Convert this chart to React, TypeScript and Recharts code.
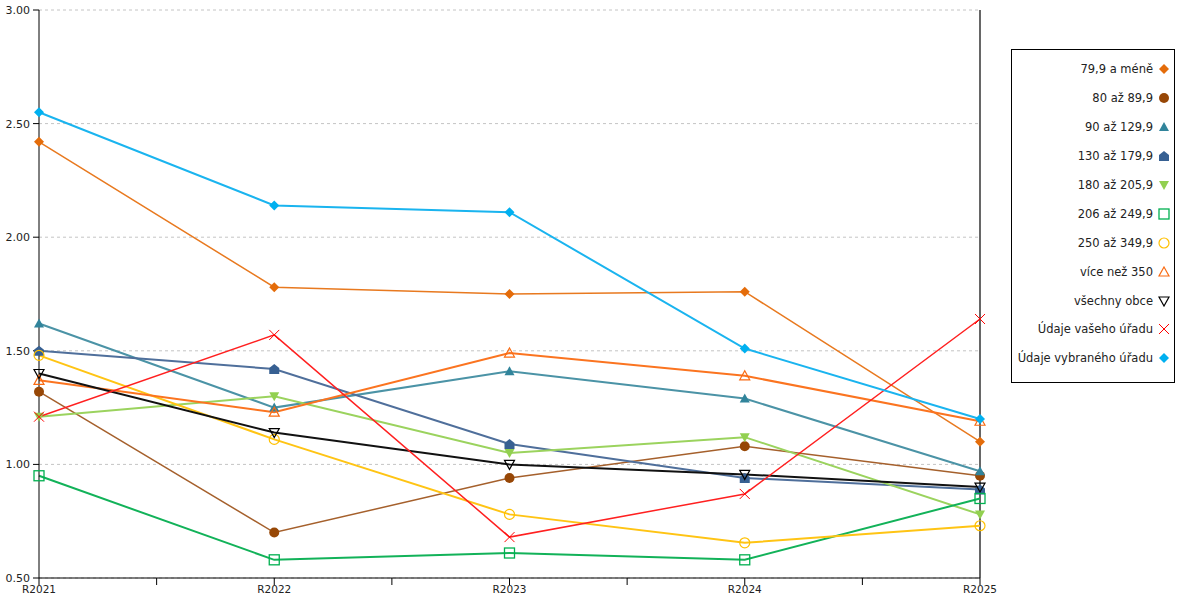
import { LineChart, Line, XAxis, YAxis, CartesianGrid, ReferenceLine } from "recharts";

const CATEGORIES = ["R2021", "R2022", "R2023", "R2024", "R2025"];
const Y_TICKS = [0.5, 1, 1.5, 2, 2.5, 3];
const X_TICKS = [0, 1, 2, 3, 4, 5, 6, 7, 8];

const S_79 = [2.42, 1.78, 1.75, 1.76, 1.1];
const S_80 = [1.32, 0.7, 0.94, 1.08, 0.95];
const S_90 = [1.62, 1.25, 1.41, 1.29, 0.97];
const S_130 = [1.5, 1.42, 1.09, 0.94, 0.89];
const S_180 = [1.21, 1.3, 1.05, 1.12, 0.78];
const S_206 = [0.95, 0.58, 0.61, 0.58, 0.85];
const S_250 = [1.48, 1.11, 0.78, 0.655, 0.73];
const S_350 = [1.37, 1.23, 1.49, 1.39, 1.19];
const S_ALL = [1.4, 1.14, 1.0, 0.956, 0.9];
const S_YOURS = [1.21, 1.57, 0.68, 0.87, 1.64];
const S_SELECTED = [2.55, 2.14, 2.11, 1.51, 1.2];

type Shape =
  | "diamond"
  | "circle"
  | "triangle"
  | "house"
  | "triangleDown"
  | "squareOpen"
  | "circleOpen"
  | "triangleOpen"
  | "triangleDownOpen"
  | "cross";

const SERIES: Array<{ key: string; name: string; values: number[]; line: string; mark: string; shape: Shape; width: number }> = [
  { key: "s79", name: "79,9 a méně", values: S_79, line: "#e8791f", mark: "#e46c0a", shape: "diamond", width: 1.5 },
  { key: "s80", name: "80 až 89,9", values: S_80, line: "#a5602c", mark: "#974706", shape: "circle", width: 1.5 },
  { key: "s90", name: "90 až 129,9", values: S_90, line: "#4b93a6", mark: "#31849b", shape: "triangle", width: 2 },
  { key: "s130", name: "130 až 179,9", values: S_130, line: "#4f6f9b", mark: "#376092", shape: "house", width: 2 },
  { key: "s180", name: "180 až 205,9", values: S_180, line: "#9bd35e", mark: "#92d050", shape: "triangleDown", width: 2 },
  { key: "s206", name: "206 až 249,9", values: S_206, line: "#12b259", mark: "#00b050", shape: "squareOpen", width: 2 },
  { key: "s250", name: "250 až 349,9", values: S_250, line: "#ffc414", mark: "#ffc000", shape: "circleOpen", width: 2 },
  { key: "s350", name: "více než 350", values: S_350, line: "#fb7420", mark: "#f96b12", shape: "triangleOpen", width: 2 },
  { key: "sall", name: "všechny obce", values: S_ALL, line: "#111111", mark: "#000000", shape: "triangleDownOpen", width: 2 },
  { key: "syours", name: "Údaje vašeho úřadu", values: S_YOURS, line: "#ff2020", mark: "#ff0000", shape: "cross", width: 1.5 },
  { key: "ssel", name: "Údaje vybraného úřadu", values: S_SELECTED, line: "#1ab4ef", mark: "#00b0f0", shape: "diamond", width: 2 },
];

const rows = CATEGORIES.map((_, i) => {
  const row: Record<string, number> = { x: i * 2 };
  SERIES.forEach((s) => {
    row[s.key] = s.values[i];
  });
  return row;
});

function Marker({ shape, color, cx, cy }: { shape: Shape; color: string; cx: number; cy: number }) {
  const r = 5;
  switch (shape) {
    case "diamond":
      return <polygon points={`${cx},${cy - r} ${cx + r},${cy} ${cx},${cy + r} ${cx - r},${cy}`} fill={color} />;
    case "circle":
      return <circle cx={cx} cy={cy} r={r} fill={color} />;
    case "triangle":
      return <polygon points={`${cx},${cy - r} ${cx + r},${cy + r - 1} ${cx - r},${cy + r - 1}`} fill={color} />;
    case "house":
      return (
        <polygon
          points={`${cx},${cy - r} ${cx + r},${cy - 1} ${cx + r},${cy + r} ${cx - r},${cy + r} ${cx - r},${cy - 1}`}
          fill={color}
        />
      );
    case "triangleDown":
      return <polygon points={`${cx - r},${cy - r + 1} ${cx + r},${cy - r + 1} ${cx},${cy + r}`} fill={color} />;
    case "squareOpen":
      return <rect x={cx - r} y={cy - r} width={2 * r} height={2 * r} fill="#fff" fillOpacity={0} stroke={color} strokeWidth={1.3} />;
    case "circleOpen":
      return <circle cx={cx} cy={cy} r={r} fill="none" stroke={color} strokeWidth={1.2} />;
    case "triangleOpen":
      return (
        <polygon
          points={`${cx},${cy - r} ${cx + r},${cy + r - 1} ${cx - r},${cy + r - 1}`}
          fill="none"
          stroke={color}
          strokeWidth={1.2}
        />
      );
    case "triangleDownOpen":
      return (
        <polygon
          points={`${cx - r},${cy - r + 1} ${cx + r},${cy - r + 1} ${cx},${cy + r}`}
          fill="none"
          stroke={color}
          strokeWidth={1.2}
        />
      );
    case "cross":
      return (
        <g stroke={color} strokeWidth={1}>
          <line x1={cx - r} y1={cy - r} x2={cx + r} y2={cy + r} />
          <line x1={cx - r} y1={cy + r} x2={cx + r} y2={cy - r} />
        </g>
      );
  }
  return null;
}

const FONT = "'DejaVu Sans', Verdana, sans-serif";

function LegendBox() {
  return (
    <div
      style={{
        position: "absolute",
        left: 1011,
        top: 49,
        width: 162,
        height: 327,
        border: "1px solid #000",
        background: "#fff",
        fontFamily: FONT,
        fontSize: 11.5,
        color: "#222",
        paddingTop: 5,
        boxSizing: "content-box",
      }}
    >
      {SERIES.map((s) => (
        <div
          key={s.key}
          style={{
            height: 28.9,
            display: "flex",
            alignItems: "center",
            justifyContent: "flex-end",
            paddingRight: 4,
            whiteSpace: "nowrap",
          }}
        >
          <span>{s.name}</span>
          <svg width={12} height={12} style={{ marginLeft: 5 }}>
            <Marker shape={s.shape} color={s.mark} cx={6} cy={6} />
          </svg>
        </div>
      ))}
    </div>
  );
}

export default function App() {
  return (
    <div style={{ position: "absolute", left: 0, top: 0, width: 1200, height: 600, background: "#fff" }}>
      <LineChart width={1200} height={600} data={rows} margin={{ top: 10, right: 220, bottom: 0, left: 0 }}>
        <CartesianGrid vertical={false} stroke="#c4c4c4" strokeDasharray="3 3" />
        <XAxis
          type="number"
          dataKey="x"
          domain={[0, 8]}
          ticks={X_TICKS}
          interval={0}
          height={22}
          tickSize={7}
          tickMargin={1}
          axisLine={{ stroke: "#000" }}
          tickLine={{ stroke: "#000" }}
          tick={{ fill: "#222", fontSize: 10.5, fontFamily: FONT }}
          tickFormatter={(v: number) => (v % 2 === 0 ? CATEGORIES[v / 2] : "")}
        />
        <YAxis
          type="number"
          domain={[0.5, 3]}
          ticks={Y_TICKS}
          interval={0}
          width={39}
          tickSize={6}
          tickMargin={3}
          axisLine={{ stroke: "#000" }}
          tickLine={{ stroke: "#000" }}
          tick={{ fill: "#222", fontSize: 11, fontFamily: FONT }}
          tickFormatter={(v: number) => v.toFixed(2)}
        />
        <ReferenceLine x={8} stroke="#000" strokeWidth={1.2} />
        {SERIES.map((s) => (
          <Line
            key={s.key}
            dataKey={s.key}
            name={s.name}
            type="linear"
            stroke={s.line}
            strokeWidth={s.width}
            isAnimationActive={false}
            activeDot={false}
            dot={(p: any) => <Marker key={`${s.key}-${p.index}`} shape={s.shape} color={s.mark} cx={p.cx} cy={p.cy} />}
          />
        ))}
      </LineChart>
      <LegendBox />
    </div>
  );
}
